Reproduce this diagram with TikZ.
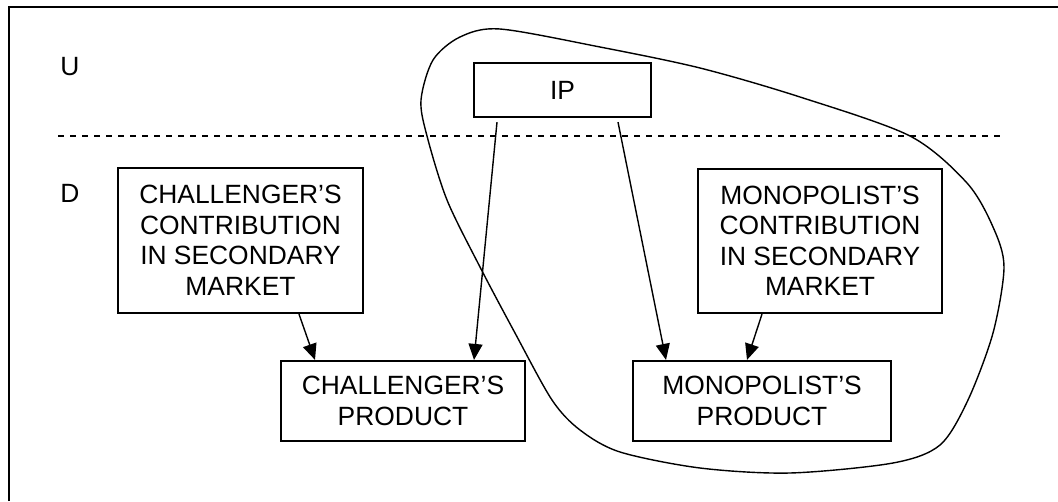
\documentclass[tikz,border=0pt]{standalone}
\usepackage{fontspec}
\setmainfont{Liberation Sans}
\usetikzlibrary{arrows.meta}
\tikzset{box/.style = {draw, line width=2.2pt, inner sep=0pt, align=center},
         link/.style = {line width=1.4pt, -{Triangle[length=16pt,width=14pt]}}}

\begin{document}
\begin{tikzpicture}[x=1pt, y=-1pt, font=\fontsize{26.4}{30.5}\selectfont]
    \useasboundingbox (0,0) rectangle (1058,501);
    \draw [line width=1.8pt] (9,501) -- (9,7) -- (1058,7);
    \draw [line width=1.4pt, dash pattern=on 6pt off 6pt] (58,136) -- (1003,136);
    \node (up) at (70,67) {U};
    \node (down) at (70,193) {D};
    \node [box, minimum width=177pt, minimum height=54pt] (ip) at (562.5,90) {IP};
    \node [box, minimum width=245pt, minimum height=145pt] (chcontrib) at (240.5,240.5) {CHALLENGER’S\\CONTRIBUTION\\IN SECONDARY\\MARKET};
    \node [box, minimum width=244pt, minimum height=144pt] (mocontrib) at (820,241) {MONOPOLIST’S\\CONTRIBUTION\\IN SECONDARY\\MARKET};
    \node [box, minimum width=244pt, minimum height=80pt] (chprod) at (403,401) {CHALLENGER’S\\PRODUCT};
    \node [box, minimum width=258pt, minimum height=80pt] (moprod) at (762,401) {MONOPOLIST’S\\PRODUCT};
    \draw [link] ([xshift=58.5pt]chcontrib.south) -- ([xshift=-88pt]chprod.north);
    \draw [link] ([xshift=-65.5pt,yshift=-4pt]ip.south) -- ([xshift=71pt]chprod.north);
    \draw [link] ([xshift=55.5pt,yshift=-4pt]ip.south) -- ([xshift=-96pt]moprod.north);
    \draw [link] ([xshift=-58pt]mocontrib.south) -- ([xshift=-15pt]moprod.north);
    \draw [line width=1.4pt] plot [smooth cycle] coordinates {(500,29) (600,47) (700,68) (800,97) (910,136) (967,183) (993,227) (1004,267) (993,333) (968,400) (940,445) (893,463) (790,473) (700,468) (620,452) (580,430) (552,400) (515,333) (480,267) (447,200) (427,136) (421,100) (433,60) (460,37)};
\end{tikzpicture}
\end{document}
